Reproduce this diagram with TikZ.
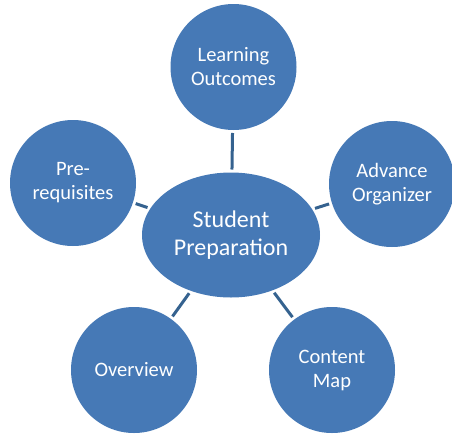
\documentclass[tikz,border=0pt]{standalone}
\usepackage{fontspec}
\setmainfont{Carlito}
\usetikzlibrary{shapes.geometric}
\definecolor{bubble}{HTML}{4679B6}
\definecolor{link}{HTML}{35628F}
\tikzset{
  bubble/.style={circle, fill=bubble, draw=none, outer sep=0pt, inner sep=0pt,
    minimum size=126pt, text=white, align=center, font=\fontsize{20.5}{24}\selectfont},
  hub/.style={ellipse, fill=bubble, draw=none, outer sep=0pt, inner sep=0pt,
    minimum width=178pt, minimum height=125pt, text=white, align=center,
    font=\fontsize{24}{28}\selectfont},
  link/.style={draw=link, line width=3pt, shorten <=3pt, shorten >=3pt}
}
\begin{document}
\begin{tikzpicture}[x=1pt,y=-1pt]
\useasboundingbox (0,0) rectangle (452,434);
\node[hub] (sp) at (231,235) {Student\\Preparation};
\node[bubble] (lo) at (233.5,67) {Learning\\Outcomes};
\node[bubble] (pr) at (73,183) {Pre-\\requisites};
\node[bubble] (ao) at (392,184) {Advance\\Organizer};
\node[bubble] (ov) at (134,370) {Overview};
\node[bubble] (cm) at (332,370) {Content\\Map};
\draw[link] (sp) -- (lo);
\draw[link] (sp) -- (pr);
\draw[link] (sp) -- (ao);
\draw[link] (sp) -- (ov);
\draw[link] (sp) -- (cm);
\end{tikzpicture}
\end{document}
